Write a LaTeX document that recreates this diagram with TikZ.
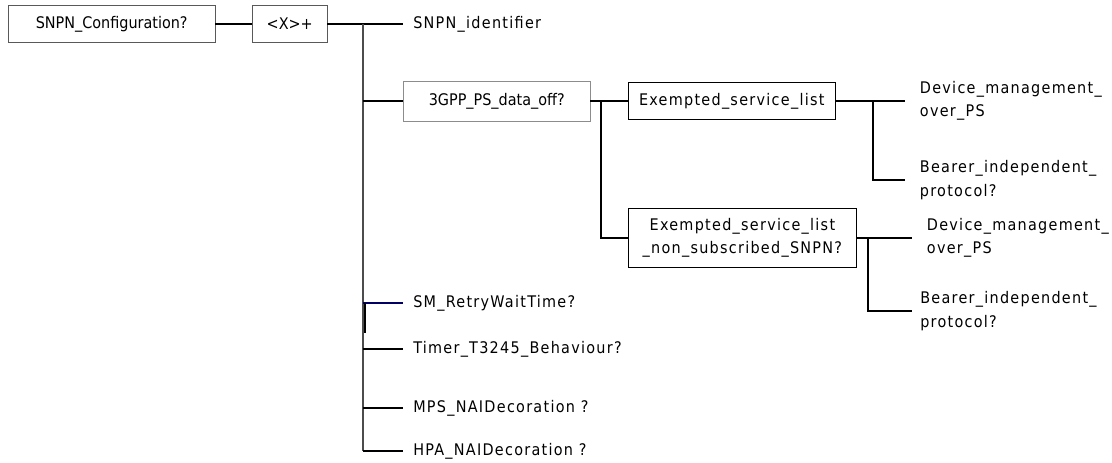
\documentclass[tikz,border=0pt]{standalone}
\usepackage{fontspec}
\setmainfont{DejaVu Sans Condensed}
\usetikzlibrary{calc}
\tikzset{>=latex}
\tikzstyle{box}=[draw=black!65,line width=0.6pt,minimum height=28pt,inner sep=0pt,align=center,anchor=west]
\tikzstyle{leaf}=[anchor=west,inner xsep=7.5pt,inner ysep=0pt,align=left,font=\fontsize{12}{17.5}\selectfont\addfontfeature{LetterSpace=8}]
\tikzstyle{wide}=[font=\fontsize{12}{17.5}\selectfont\addfontfeature{LetterSpace=8}]
\tikzstyle{link}=[line width=1.5pt]
\tikzstyle{trunk}=[line width=1.3pt,draw=black!70]

\begin{document}
\begin{tikzpicture}[x=0.75pt,y=-0.75pt,font=\fontsize{12}{17.5}\selectfont]
 \useasboundingbox (0,0) rectangle (1112,463);
 % top row
 \node[box,minimum width=155pt] (cfg) at (8,24) {SNPN\_Configuration?};
 \node[box,minimum width=56pt] (rep) at (252,24) {<X>+};
 \node[leaf] (id) at (403,24) {SNPN\_identifier};
 \node[box,draw=black!45,minimum width=140pt,minimum height=30pt] (off) at (403,101) {3GPP\_PS\_data\_off?};
 \node[leaf] (sm) at (403,303) {SM\_RetryWaitTime?};
 \node[leaf] (tmr) at (403,349) {Timer\_T3245\_Behaviour?};
 \node[leaf] (mps) at (403,408) {MPS\_NAIDecoration ?};
 \node[leaf] (hpa) at (403,451) {HPA\_NAIDecoration ?};
 %
 \node[box,wide,draw=black,minimum width=155pt] (esl) at (628,101) {Exempted\_service\_list};
 \node[box,wide,draw=black,minimum width=171pt,minimum height=44pt] (eslns) at (628,238) {Exempted\_service\_list\\\_non\_subscribed\_SNPN?};
 \node[leaf,inner xsep=11pt] (dmA) at (905,101) {Device\_management\_\\over\_PS};
 \node[leaf,inner xsep=11pt] (biA) at (905,180) {Bearer\_independent\_\\protocol?};
 \node[leaf,inner xsep=11pt] (dmB) at (912,238) {Device\_management\_\\over\_PS};
 \node[leaf,inner xsep=6pt] (biB) at (912,311) {Bearer\_independent\_\\protocol?};
 %
 \coordinate (r1) at (363,24);
 \coordinate (r2) at (601,101);
 \coordinate (r3) at (873,101);
 \coordinate (r4) at (868,238);
 %
 \draw[link] (cfg) -- (rep);
 \draw[link] (rep) -- (id);
 \draw[trunk] (r1) -- (r1 |- hpa.west);
 \draw[link] (off.west -| r1) -- (off.west);
 \draw[line width=1pt,draw=blue!40!black] (sm.west -| r1) -- (sm.west);
 \draw[link] ($(sm.west -| r1)+(2,0)$) -- ($(tmr.west -| r1)+(2,-16)$);
 \draw[link] (tmr.west -| r1) -- (tmr.west);
 \draw[link] (mps.west -| r1) -- (mps.west);
 \draw[link] (r1 |- hpa.west) -- (hpa.west);
 %
 \draw[link] (off) -- (esl);
 \draw[link] (r2) |- (eslns.west);
 \draw[link] (esl) -- (dmA);
 \draw[link] (r3) |- (biA.west);
 \draw[link] (eslns.east) -- (dmB.west);
 \draw[link] (r4) |- (biB.west);
\end{tikzpicture}
\end{document}
